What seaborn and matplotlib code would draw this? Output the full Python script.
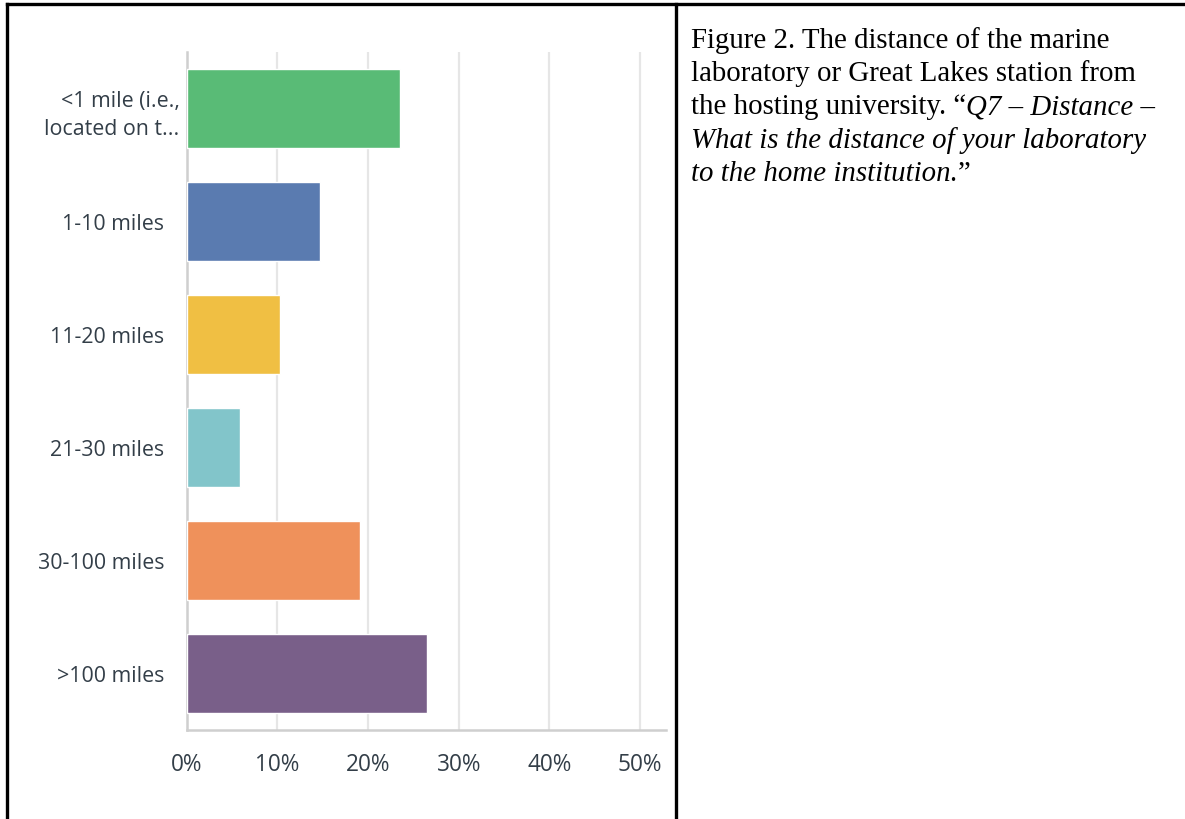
import matplotlib
matplotlib.use("Agg")
import matplotlib.pyplot as plt
import matplotlib.transforms as mtransforms
from matplotlib.lines import Line2D
import seaborn as sns
import pandas as pd

# ---- data ----
categories = ["<1 mile (i.e.,\nlocated on t...", "1-10 miles", "11-20 miles",
              "21-30 miles", "30-100 miles", ">100 miles"]
percent = [23.5, 14.7, 10.3, 5.9, 19.1, 26.5]
bar_colors = ["#59BB76", "#5A7BB0", "#F0BF43", "#82C5CA", "#EF915B", "#795F89"]
xtick_values = [0, 10, 20, 30, 40, 50]
xtick_labels = ["0%", "10%", "20%", "30%", "40%", "50%"]
caption_lines = [
    [("Figure 2. The distance of the marine", "normal")],
    [("laboratory or Great Lakes station from", "normal")],
    [("the hosting university. \u201c", "normal"), ("Q7 \u2013 Distance \u2013", "italic")],
    [("What is the distance of your laboratory", "italic")],
    [("to the home institution.", "italic"), ("\u201d", "normal")],
]

df = pd.DataFrame({"category": categories, "percent": percent})

sns.set_theme(style="white")
plt.rcParams["font.family"] = ["Open Sans", "DejaVu Sans"]

W, H = 1185, 820
fig = plt.figure(figsize=(W / 100, H / 100), dpi=100)
fig.patch.set_facecolor("white")

# axes placement (pixel based)
ax_left, ax_right, ax_top, ax_bottom = 186.7, 665.7, 53, 731
ax = fig.add_axes([ax_left / W, 1 - ax_bottom / H,
                   (ax_right - ax_left) / W, (ax_bottom - ax_top) / H])

sns.barplot(data=df, y="category", x="percent", hue="category",
            palette=bar_colors, orient="h", width=0.7, legend=False,
            saturation=1, ax=ax, zorder=3)

ax.set_xlim(0, 52.83)
ax.set_ylim(5.5, -0.5)
ax.set_xticks(xtick_values)
ax.set_xticklabels(xtick_labels)
ax.set_xlabel("")
ax.set_ylabel("")

label_color = "#333E48"
ax.tick_params(axis="x", length=0, pad=16, labelsize=16.3, labelcolor=label_color)
ax.tick_params(axis="y", length=0, pad=16, labelsize=15.4, labelcolor=label_color)
for lbl in ax.get_yticklabels():
    lbl.set_linespacing(1.45)
    lbl.set_horizontalalignment("right")
first = ax.get_yticklabels()[0]
first.set_transform(first.get_transform() +
                    mtransforms.ScaledTranslation(15 / 100, 0, fig.dpi_scale_trans))

ax.grid(axis="x", color="#E6E6E6", linewidth=1.6, zorder=0)
ax.grid(axis="y", visible=False)
for s in ["top", "right"]:
    ax.spines[s].set_visible(False)
ax.spines["left"].set_color("#CFCFCF")
ax.spines["left"].set_linewidth(1.8)
ax.spines["bottom"].set_color("#CFCFCF")
ax.spines["bottom"].set_linewidth(1.8)
ax.set_facecolor("white")

# ---- table borders ----
def px_line(x0, y0, x1, y1):
    fig.add_artist(Line2D([x0 / W, x1 / W], [1 - y0 / H, 1 - y1 / H],
                          transform=fig.transFigure, color="black",
                          linewidth=2.4, solid_capstyle="projecting"))

px_line(7, 5, W, 5)
px_line(7, 5, 7, H)
px_line(676, 5, 676, H)

# ---- caption ----
renderer = fig.canvas.get_renderer()
cap_x = 691
base0 = 48
line_step = 33.2
for i, segs in enumerate(caption_lines):
    x = cap_x
    y = base0 + i * line_step
    for text, style in segs:
        t = fig.text(x / W, 1 - y / H, text, fontsize=20.8, style=style,
                     family=["Liberation Serif", "DejaVu Serif"],
                     color="black", ha="left", va="baseline")
        bb = t.get_window_extent(renderer)
        x = bb.x1

fig.savefig("out.png", dpi=100, facecolor="white")
